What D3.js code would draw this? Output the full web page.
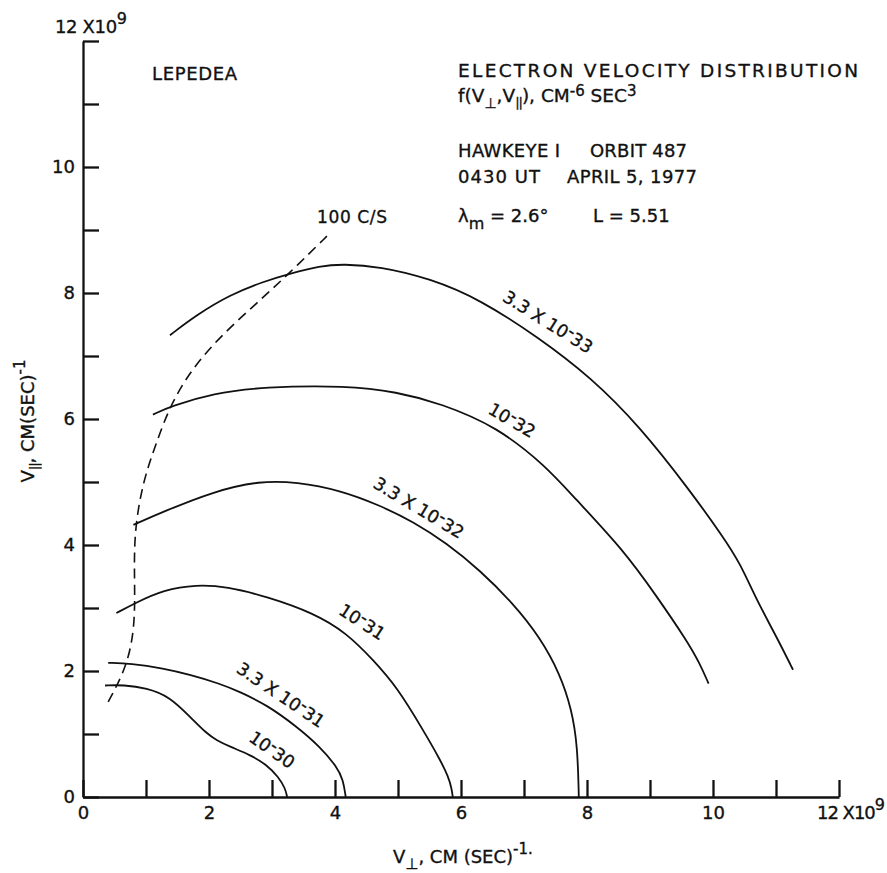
<!DOCTYPE html>
<html>
<head>
<meta charset="utf-8">
<title>Electron velocity distribution - Hawkeye 1</title>
<script src="https://cdn.jsdelivr.net/npm/d3@7"></script>
<style>
body { margin: 0; background: #fff; }
svg { font-family: 'DejaVu Sans', sans-serif; }
text { fill: #111; stroke: #111; stroke-width: 0.35; }
.contour { fill: none; stroke: #111; stroke-width: 1.8; }
.cutoff { fill: none; stroke: #111; stroke-width: 1.6; stroke-dasharray: 10 6; }
.axis path, .axis line { stroke: #111; stroke-width: 2.3; }
</style>
</head>
<body>
<svg width="887" height="873"></svg>
<script>

    // Contours of f(V_perp, V_par) (units of 10^9 cm/s)
    var c1e30  = [[0.35,1.77],[0.64,1.78],[1.01,1.73],[1.38,1.59],[1.70,1.27],[1.96,1.01],[2.12,0.90],
                  [2.33,0.80],[2.65,0.67],[2.92,0.51],[3.10,0.32],[3.21,0.14],[3.24,0]];
    var c33e31 = [[0.40,2.13],[0.75,2.12],[1.28,2.04],[1.70,1.94],[2.17,1.80],[2.49,1.67],[2.92,1.46],
                  [3.39,1.12],[3.76,0.80],[4.03,0.48],[4.13,0.27],[4.17,0]];
    var c1e31  = [[0.53,2.92],[0.83,3.08],[1.28,3.29],[1.80,3.37],[2.28,3.34],[2.92,3.18],[3.66,2.92],
                  [4.19,2.60],[4.61,2.17],[4.98,1.75],[5.40,1.06],[5.67,0.59],[5.80,0.32],[5.85,0.14],[5.87,0]];
    var c33e32 = [[0.80,4.32],[1.28,4.53],[2.07,4.85],[2.81,5.02],[3.39,5.00],[4.08,4.87],[4.71,4.63],
                  [5.24,4.37],[5.77,4.03],[6.30,3.60],[6.83,3.07],[7.25,2.54],[7.57,1.96],[7.76,1.38],
                  [7.85,0.80],[7.87,0]];
    var c1e32  = [[1.11,6.07],[1.38,6.20],[2.07,6.41],[2.86,6.51],[4.19,6.53],[4.98,6.43],[5.67,6.25],
                  [6.57,5.88],[7.36,5.24],[7.78,4.77],[8.58,3.92],[9.11,3.18],[9.58,2.49],
                  [9.79,2.12],[9.93,1.80]];
    var c33e33 = [[1.38,7.33],[1.80,7.65],[2.33,7.97],[2.86,8.18],[3.29,8.31],[3.76,8.43],[4.13,8.46],
                  [4.71,8.42],[5.51,8.23],[6.30,7.90],[7.25,7.28],[8.05,6.67],[8.84,5.88],[9.63,4.87],
                  [10.16,4.13],[10.43,3.71],[10.69,3.13],[11.01,2.54],[11.27,2.02]];

    // 100 counts/s instrument cutoff (dashed)
    var cutoff100 = [[0.40,1.51],[0.64,1.96],[0.77,2.39],[0.83,2.92],[0.81,3.71],[0.83,4.32],[0.96,5.03],
                     [1.14,5.55],[1.38,6.22],[1.75,6.83],[2.23,7.36],[2.76,7.84],[3.26,8.30],[3.92,8.95]];

    // contour level labels: mantissa, exponent
    var levelMant = ['', '3.3 X ', '', '3.3 X ', '', '3.3 X '];
    var levelExp  = ['30', '31', '31', '32', '32', '33'];

    var tickVals = d3.range(0, 13);

    var svg = d3.select('svg');

    var x = d3.scaleLinear().domain([0, 12]).range([83, 839]);
    var y = d3.scaleLinear().domain([0, 12]).range([797, 41]);

    function fmt(d) { return (d % 2 === 0 && d < 12) ? d : ''; }

    // axes, ticks pointing inwards
    svg.append('g').attr('class', 'axis')
        .attr('transform', 'translate(0,' + y(0) + ')')
        .call(d3.axisBottom(x).tickValues(tickVals).tickSizeInner(-17).tickSizeOuter(0).tickPadding(9).tickFormat(fmt));
    svg.append('g').attr('class', 'axis')
        .attr('transform', 'translate(' + x(0) + ',0)')
        .call(d3.axisLeft(y).tickValues(tickVals).tickSizeInner(-16).tickSizeOuter(0).tickPadding(8).tickFormat(fmt));
    svg.selectAll('.axis').attr('font-family', null).attr('font-size', 18);
    svg.selectAll('.axis text').style('fill', '#111');

    // "12 X 10^9" at both axis ends
    function tenNine(g) {
        g.append('tspan').text('12 X10');
        g.append('tspan').attr('dy', -9).attr('font-size', 16).text('9');
    }
    svg.append('text').attr('x', x(12) - 22).attr('y', y(0) + 22).attr('font-size', 18)
        .attr('textLength', 68).call(tenNine);
    svg.append('text').attr('x', 55).attr('y', y(12) - 8).attr('font-size', 18)
        .attr('textLength', 72).call(tenNine);

    // axis titles
    var xt = svg.append('text').attr('x', 393).attr('y', 863).attr('font-size', 18);
    xt.append('tspan').text('V');
    xt.append('tspan').attr('dy', 6).attr('font-size', 15).text('\u22A5');
    xt.append('tspan').attr('dy', -6).text(', CM (SEC)');
    xt.append('tspan').attr('dy', -9).attr('font-size', 15).text('-1.');

    var yt = svg.append('text').attr('transform', 'translate(34,421) rotate(-90)')
        .attr('text-anchor', 'middle').attr('font-size', 18);
    yt.append('tspan').text('V');
    yt.append('tspan').attr('dy', 5).attr('font-size', 13).attr('letter-spacing', -1).text('||');
    yt.append('tspan').attr('dy', -5).text(', CM(SEC)');
    yt.append('tspan').attr('dy', -9).attr('font-size', 15).text('-1');

    // contour lines
    var line = d3.line()
        .x(function (d) { return x(d[0]); })
        .y(function (d) { return y(d[1]); })
        .curve(d3.curveBasis);

    var contours = [c1e30, c33e31, c1e31, c33e32, c1e32, c33e33];
    svg.selectAll('path.contour')
        .data(contours)
        .enter().append('path')
        .attr('class', 'contour')
        .attr('d', line);

    svg.append('path').attr('class', 'cutoff').attr('d', line(cutoff100));

    // level labels laid along the curves (centre in data units, rotation in degrees)
    var labelAt = [[3.00, 0.75, 35], [3.14, 1.62, 34], [4.43, 2.78, 33], [5.33, 4.59, 31], [6.81, 5.98, 30], [7.38, 7.54, 32]];
    labelAt.forEach(function (p, i) {
        var t = svg.append('text')
            .attr('transform', 'translate(' + x(p[0]) + ',' + y(p[1]) + ') rotate(' + p[2] + ')')
            .attr('text-anchor', 'middle').attr('dy', '0.35em').attr('font-size', 17.5);
        t.append('tspan').text(levelMant[i] + '10');
        t.append('tspan').attr('dy', -5).text('-');
        t.append('tspan').attr('dy', 5).text(levelExp[i]);
    });

    svg.append('text').attr('x', 317).attr('y', 223).attr('font-size', 17)
        .attr('textLength', 70).text('100 C/S');

    // header block
    svg.append('text').attr('x', 152).attr('y', 80).attr('font-size', 18)
        .attr('textLength', 85).text('LEPEDEA');
    svg.append('text').attr('x', 458).attr('y', 77).attr('font-size', 18.5)
        .attr('textLength', 400).text('ELECTRON VELOCITY DISTRIBUTION');

    var f = svg.append('text').attr('x', 458).attr('y', 102).attr('font-size', 18.5);
    f.append('tspan').text('f(V');
    f.append('tspan').attr('dy', 6).attr('font-size', 14).text('\u22A5');
    f.append('tspan').attr('dy', -6).text(',V');
    f.append('tspan').attr('dy', 5).attr('font-size', 13).attr('letter-spacing', -1).text('||');
    f.append('tspan').attr('dy', -5).text('),  CM');
    f.append('tspan').attr('dy', -6).attr('font-size', 15).text('-6');
    f.append('tspan').attr('dy', 6).text(' SEC');
    f.append('tspan').attr('dy', -6).attr('font-size', 15).text('3');

    svg.append('text').attr('x', 458).attr('y', 157).attr('font-size', 18).attr('textLength', 102).text('HAWKEYE I');
    svg.append('text').attr('x', 590).attr('y', 157).attr('font-size', 18).attr('textLength', 97).text('ORBIT 487');
    svg.append('text').attr('x', 458).attr('y', 183).attr('font-size', 18).attr('textLength', 82).text('0430 UT');
    svg.append('text').attr('x', 567).attr('y', 183).attr('font-size', 18).attr('textLength', 130).text('APRIL 5, 1977');

    var lam = svg.append('text').attr('x', 458).attr('y', 222).attr('font-size', 18);
    lam.append('tspan').text('\u03BB');
    lam.append('tspan').attr('dy', 7).attr('font-size', 16).text('m');
    lam.append('tspan').attr('dy', -7).text(' = 2.6\u00B0');
    svg.append('text').attr('x', 593).attr('y', 222).attr('font-size', 18).text('L = 5.51');

</script>
</body>
</html>
